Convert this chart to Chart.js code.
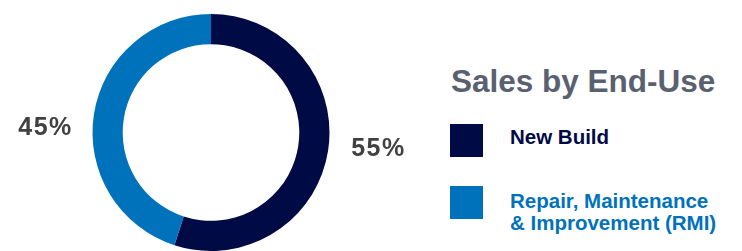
<!DOCTYPE html>
<html>
<head>
<meta charset="utf-8">
<script src="https://cdn.jsdelivr.net/npm/chart.js@4.4.0/dist/chart.umd.min.js"></script>
<style>
  html, body { margin: 0; padding: 0; background: #fff; overflow: hidden; }
  body { width: 742px; height: 251px; position: relative; font-family: "Liberation Sans", Arial, Helvetica, sans-serif; }
  #wrap { position: absolute; left: 0; top: 0; width: 422px; height: 251px; }
  #titre { position: absolute; left: 451px; top: 66px; font-size: 31.5px; line-height: 31px; font-weight: bold; color: #596170; white-space: nowrap; }
  .puce { position: absolute; left: 450px; width: 33px; height: 33px; }
  .libelle { position: absolute; left: 510px; font-size: 20.5px; line-height: 22px; font-weight: bold; white-space: nowrap; }
</style>
</head>
<body>
<div id="wrap"><canvas id="graphique-ventes"></canvas></div>
<div id="titre">Sales by End-Use</div>
<div id="legende"></div>
<script>
// Données du graphique
const labels = ['New Build', 'Repair, Maintenance<br>& Improvement (RMI)'];
const valeurs = [55, 45];
const couleurs = ['#000a45', '#0072bc'];

/* Légende en HTML, à droite */
const puceTop = [124, 186];
const texteTop = [126, 190];
let str = '';
labels.forEach((l, i) => {
  str += `<div class="puce" style="top:${puceTop[i]}px;background:${couleurs[i]}"></div>`;
  str += `<div class="libelle" style="top:${texteTop[i]}px;color:${couleurs[i]}">${l}</div>`;
});
document.getElementById('legende').innerHTML = str;

/* Pourcentages à côté de l'anneau */
const pourcentages = {
  id: 'pourcentages',
  afterDatasetsDraw(chart) {
    const ctx = chart.ctx;
    const meta = chart.getDatasetMeta(0);
    ctx.save();
    ctx.font = 'bold 25px "Liberation Sans", Arial, sans-serif';
    ctx.letterSpacing = '1.5px';
    ctx.fillStyle = '#414141';
    ctx.textAlign = 'center';
    ctx.textBaseline = 'alphabetic';
    meta.data.forEach((arc, i) => {
      const p = arc.getProps(['x', 'y', 'startAngle', 'endAngle', 'outerRadius'], true);
      const milieu = (p.startAngle + p.endAngle) / 2;
      const x = p.x + Math.cos(milieu) * (p.outerRadius + 50) + 1;
      const y = p.y + Math.sin(milieu) * 67 + 13;
      ctx.fillText(valeurs[i] + '%', x, y);
    });
    ctx.restore();
  }
};

const ctx = document.getElementById('graphique-ventes').getContext('2d');
new Chart(ctx, {
  type: 'doughnut',
  data: {
    labels: labels,
    datasets: [{
      data: valeurs,
      backgroundColor: couleurs,
      borderWidth: 0
    }]
  },
  options: {
    responsive: true,
    maintainAspectRatio: false,
    animation: false,
    cutout: '74.5%',
    layout: { padding: { top: 14, bottom: 0, left: 0, right: 0 } },
    plugins: {
      legend: { display: false },
      tooltip: { enabled: false }
    }
  },
  plugins: [pourcentages]
});
</script>
</body>
</html>
